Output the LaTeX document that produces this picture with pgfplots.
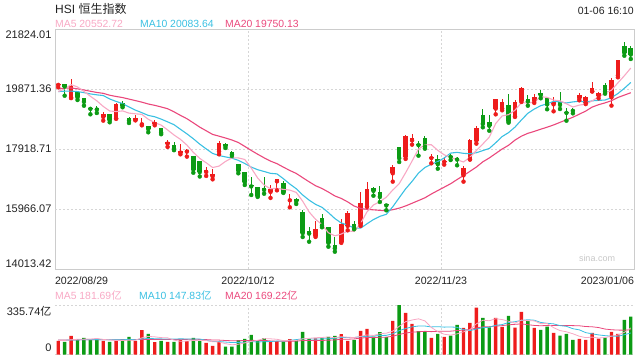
\documentclass[border=0pt]{standalone}
\usepackage{pgfplots}
\pgfplotsset{compat=1.18}
\usepackage{pgfplotstable}
\usepackage{fontspec}
\setmainfont{Liberation Sans}
\newfontfamily\cjk{Noto Sans CJK SC}
\definecolor{cred}{RGB}{238,28,28}
\definecolor{cgreen}{RGB}{12,155,20}
\definecolor{mafive}{RGB}{248,168,196}
\definecolor{maten}{RGB}{58,192,226}
\definecolor{matwenty}{RGB}{234,72,124}
\definecolor{gridc}{RGB}{214,214,214}
\definecolor{axc}{RGB}{204,204,204}
\definecolor{txtc}{RGB}{34,34,34}

\pgfplotstableread{
i O H L C V
0 20004 20079 19926 20023 92.4
2 19591 20186 19575 19954 126.2
7 18963 19113 18842 19044 92.4
9 18917 19428 18900 19362 92.4
12 18865 19028 18850 18930 92.4
13 18722 18917 18689 18762 164.5
15 18735 18865 18690 18781 83.4
17 18094 18224 17986 18148 85.6
19 17801 18094 17746 17855 101.4
20 17834 17931 17671 17860 90.1
23 17173 17345 17043 17223 78.9
24 17030 17257 16932 17080 58.6
25 17834 18182 17746 18088 83.4
33 16522 16760 16327 16613 90.1
34 16867 16935 16574 16915 90.1
36 16249 16457 16021 16280 103.7
40 15100 15588 15058 15318 110
44 14882 15653 14865 15455 137.5
45 15416 15904 15272 15827 92.4
47 15468 16522 15416 16161 160.0
48 16053 16835 16034 16596 173.5
52 17127 17388 16857 17326 227.6
54 17671 18387 17596 18343 281.7
55 18201 18419 18061 18256 207.3
58 17625 17759 17453 17656 112.7
60 17500 17648 17411 17524 119.4
63 17062 17368 16857 17298 180.3
64 17583 18257 17573 18205 214.1
65 18192 18670 18094 18597 317.7
68 19233 19558 19047 19518 247.9
69 19233 19558 19178 19441 187.0
71 18982 19503 18963 19451 182.5
72 19493 19949 19451 19901 288.4
74 19493 19721 19419 19596 180.3
77 19373 19614 19145 19450 146.5
81 19568 19754 19503 19679 105.9
82 19420 19650 19380 19593 99.1
83 19796 20112 19790 19899 146.5
84 19656 19776 19568 19741 108.2
86 19601 20242 19331 20145 153.2
87 20317 20828 20252 20793 139.7
}\redC

\pgfplotstableread{
i O H L C V
1 20024 20035 19653 19949 85.6
3 19764 19780 19513 19597 103.7
4 19556 19570 19328 19452 112.7
5 19253 19265 19048 19225 96.9
6 19230 19308 19090 19203 105.9
8 19035 19050 18788 18855 85.6
10 19416 19481 19276 19327 96.9
11 18905 18960 18765 18847 119.4
14 18667 18680 18462 18566 139.7
16 18602 18615 18400 18445 92.4
18 18026 18146 17880 17933 85.6
21 17668 17680 17147 17251 112.7
22 17528 17540 17024 17166 92.4
26 18082 18124 17951 18012 54.1
27 17821 17863 17691 17740 54.1
28 17421 17430 17128 17217 96.9
29 17170 17180 16747 16832 105.9
30 16740 17007 16422 16701 132.9
31 16672 16690 16360 16389 92.4
32 16640 16998 16464 16588 110.4
35 16790 16877 16490 16511 87.9
37 16292 16310 16129 16211 99.1
38 15869 15943 15055 15181 153.2
39 15227 15390 14902 15166 103.7
41 15650 15803 15371 15428 110.4
42 15380 15395 14739 14863 119.4
43 14785 15045 14577 14687 126.2
46 15455 15585 15306 15339 99.1
49 16627 16682 16399 16557 121.7
50 16519 16705 16194 16359 151.0
51 16110 16140 15924 16081 117.2
53 17961 17975 17496 17620 335.7
56 18072 18179 17701 18046 157.7
57 18277 18352 17929 17993 157.7
59 17584 17714 17278 17424 139.7
61 17685 17760 17560 17661 128.4
62 17626 17658 17388 17574 200.5
66 19025 19211 18625 18736 247.9
67 18781 19025 18514 18675 184.8
70 19351 19709 18775 18815 261.4
73 19546 19676 19328 19464 227.6
75 19741 19829 19569 19673 166.7
76 19569 19611 19211 19369 189.3
78 19438 19764 19220 19353 128.4
79 19113 19263 18840 19095 139.7
80 19190 19250 19080 19160 99.1
85 20002 20057 19718 19781 114.9
88 21271 21391 20955 21052 234.3
89 21183 21271 20848 20992 256.9
}\greenC

\pgfplotstableread{
i m5 m10 m20 v5 v10 v20
0 19786.6 19788.0 19883.6 96 97 98
1 19875.8 19799.8 19896.6 95 97 98
2 20012.8 19803.0 19905.9 100 98 99
3 19938.6 19786.3 19877.1 103 99 99
4 19795.0 19754.2 19839.6 104.1 100 100
5 19635.4 19711.0 19798.5 105.0 100 100
6 19486.2 19681.0 19758.5 109.1 101 100
7 19304.2 19658.5 19730.2 102.3 100 100
8 19155.8 19547.2 19668.8 98.7 100 100
9 19137.8 19466.4 19628.1 94.6 99.4 100
10 19158.2 19396.8 19592.4 94.6 99.8 101
11 19087.0 19286.6 19543.2 97.3 103.2 101
12 19064.2 19184.2 19493.6 97.3 99.8 101
13 19045.6 19100.7 19443.5 113.1 105.9 102
14 18886.4 19012.1 19383.2 122.6 108.6 102
15 18777.2 18967.7 19339.4 119.9 107.3 102
16 18696.8 18891.9 19286.5 114.5 105.9 102
17 18540.4 18802.3 19230.4 113.1 105.2 102
18 18374.6 18710.1 19128.7 97.3 105.2 102
19 18232.4 18559.4 19012.9 89.7 106.1 102.8
20 18048.2 18412.7 18904.8 91.0 105.5 102.6
21 17809.4 18253.1 18769.9 95.1 104.8 104.0
22 17613.0 18076.7 18630.5 96.4 104.8 102.3
23 17471.0 17922.8 18511.8 95.1 96.2 101.1
24 17316.0 17774.2 18393.2 86.5 88.1 98.4
25 17361.6 17704.9 18336.3 85.2 88.1 97.7
26 17513.8 17661.6 18276.8 73.5 84.3 95.1
27 17628.6 17620.8 18211.6 65.8 81.1 93.2
28 17627.4 17549.2 18129.7 69.4 82.3 93.7
29 17577.8 17446.9 18003.2 78.9 82.7 94.4
30 17300.4 17331.0 17871.9 88.8 87.0 96.2
31 16975.8 17244.8 17749.0 96.4 85.0 94.9
32 16745.4 17187.0 17631.9 107.7 86.8 95.8
33 16624.6 17126.0 17524.4 106.3 87.9 92.1
34 16641.2 17109.5 17441.9 103.2 91.0 89.6
35 16603.2 16951.8 17328.4 94.2 91.5 89.8
36 16581.4 16778.6 17220.1 96.4 96.4 90.4
37 16506.0 16625.7 17123.3 94.2 100.9 91.0
38 16219.6 16422.1 16985.7 106.8 106.6 94.4
39 15869.8 16255.5 16851.2 109.5 106.4 94.5
40 15631.2 16117.2 16724.1 113.9 104.1 95.5
41 15460.8 16021.1 16633.0 115.3 105.9 95.4
42 15191.2 15848.6 16517.8 119.3 106.8 96.8
43 15092.4 15656.0 16391.0 113.9 110.4 99.1
44 15150.2 15510.0 16309.8 120.7 115.1 103.1
45 15252.0 15441.6 16196.7 117.2 115.6 103.5
46 15234.2 15347.5 16063.1 114.9 115.1 105.8
47 15493.8 15342.5 15984.1 123.0 121.2 111.1
48 15875.6 15484.0 15953.1 132.5 123.2 114.9
49 16096.0 15623.1 15939.3 129.3 125.0 115.7
50 16202.4 15727.2 15922.2 141.1 129.1 116.6
51 16350.8 15792.5 15906.8 144.7 129.8 117.8
52 16583.8 16038.8 15943.7 158.2 140.6 123.7
53 16788.6 16332.1 15994.1 190.6 161.6 136.0
54 17145.8 16620.9 16065.5 222.6 176.0 145.6
55 17525.2 16863.8 16152.7 233.9 187.5 151.5
56 17918.2 17134.5 16241.0 242.0 193.3 154.2
57 18051.6 17317.7 16330.1 228.0 193.1 157.2
58 18058.8 17423.7 16453.9 183.4 187.0 155.1
59 17875.0 17510.4 16566.8 155.0 188.8 156.9
60 17728.6 17626.9 16677.1 137.4 185.7 157.4
61 17651.6 17784.9 16788.7 131.6 186.8 158.3
62 17567.8 17809.7 16924.3 140.1 184.1 162.4
63 17496.2 17777.5 17054.8 153.7 168.5 165.1
64 17652.4 17763.7 17192.3 168.5 161.8 168.9
65 17867.0 17797.8 17330.8 208.2 172.8 180.2
66 18082.0 17866.8 17500.7 232.1 181.8 187.6
67 18302.2 17935.0 17626.4 229.0 184.6 188.8
68 18746.2 18121.2 17772.5 242.5 198.1 192.6
69 18993.4 18322.9 17916.7 237.1 202.8 195.8
70 19037.0 18452.0 18039.5 225.8 217.0 201.3
71 19180.0 18631.0 18208.0 212.7 222.4 204.6
72 19425.2 18863.7 18336.7 233.4 231.2 207.6
73 19414.4 19080.3 18428.9 229.4 235.9 202.2
74 19445.4 19219.4 18491.6 228.0 232.6 197.2
75 19617.0 19327.0 18562.4 209.1 217.5 195.1
76 19600.6 19390.3 18628.6 210.5 211.6 196.7
77 19510.4 19467.8 18701.4 182.1 207.8 196.2
78 19488.2 19451.3 18786.3 162.2 195.8 196.9
79 19388.0 19416.7 18869.8 154.1 191.1 196.9
80 19285.4 19451.2 18951.6 140.6 174.9 195.9
81 19347.4 19474.0 19052.5 123.9 167.2 194.8
82 19376.0 19443.2 19153.5 114.4 148.3 189.7
83 19485.2 19486.7 19283.5 118.1 140.2 188.0
84 19614.4 19501.2 19360.3 111.8 132.9 182.7
85 19738.6 19512.0 19419.5 114.9 127.8 172.6
86 19831.8 19589.6 19490.0 124.4 124.2 167.9
87 20071.8 19723.9 19595.9 132.5 123.5 165.6
88 20302.4 19893.8 19672.6 150.1 134.1 164.9
89 20552.6 20083.5 19750.1 179.8 145.8 168.4
}\maT

\begin{document}
\begin{tikzpicture}
\useasboundingbox (0,0) rectangle (640bp,360bp);

% ---------- price panel ----------
\begin{axis}[
  at={(55bp,91bp)}, anchor=south west, scale only axis,
  width=579bp, height=240bp,
  xmin=-0.5, xmax=89.5, ymin=14013.42, ymax=21824.01,
  scaled x ticks=false, scaled y ticks=false,
  axis line style={draw=axc, line width=0.8bp},
  major tick length=0pt,
  ytick={21651.5,19871.36,17918.71,15966.07,14199},
  yticklabels={21824.01,19871.36,17918.71,15966.07,14013.42},
  extra y ticks={19871.36,17918.71,15966.07},
  extra y tick labels={},
  extra y tick style={grid=major},
  xtick={-0.5,29.5,59.5,89.5},
  xticklabels={\makebox[0pt][l]{2022/08/29},2022/10/12,2022/11/23,\makebox[0pt][r]{2023/01/06}},
  extra x ticks={29.5,59.5},
  extra x tick labels={},
  extra x tick style={grid=major},
  major grid style={draw=gridc, line width=0.9bp, dash pattern=on 2bp off 2bp},
  yticklabel style={font=\fontsize{11bp}{12bp}\selectfont, text=txtc},
  xticklabel style={font=\fontsize{10.6bp}{12bp}\selectfont, text=txtc, yshift=-4bp},
  /pgf/number format/assume math mode=true,
]
% wicks
\addplot[cred, only marks, mark=none, forget plot, error bars/.cd, y dir=plus, y explicit, error mark=none, error bar style={draw=cred, line width=0.9bp}]
  table[x=i, y=L, y error plus expr=\thisrow{H}-\thisrow{L}] {\redC};
\addplot[cgreen, only marks, mark=none, forget plot, error bars/.cd, y dir=plus, y explicit, error mark=none, error bar style={draw=cgreen, line width=0.9bp}]
  table[x=i, y=L, y error plus expr=\thisrow{H}-\thisrow{L}] {\greenC};
% bodies
\addplot[cred, only marks, mark=none, forget plot, error bars/.cd, y dir=plus, y explicit, error mark=none, error bar style={draw=cred, line width=4.6bp, line cap=butt}]
  table[x=i, y=O, y error plus expr=\thisrow{C}-\thisrow{O}+12] {\redC};
\addplot[cgreen, only marks, mark=none, forget plot, error bars/.cd, y dir=plus, y explicit, error mark=none, error bar style={draw=cgreen, line width=4.6bp, line cap=butt}]
  table[x=i, y=C, y error plus expr=\thisrow{O}-\thisrow{C}+12] {\greenC};
% moving averages
\addplot[matwenty, line width=1.1bp, mark=none] table[x=i, y=m20] {\maT};
\addplot[maten, line width=1.1bp, mark=none] table[x=i, y=m10] {\maT};
\addplot[mafive, line width=1.1bp, mark=none] table[x=i, y=m5] {\maT};
\end{axis}

% ---------- volume panel ----------
\begin{axis}[
  at={(55bp,5.5bp)}, anchor=south west, scale only axis,
  width=579bp, height=49.5bp,
  xmin=-0.5, xmax=89.5, ymin=0, ymax=335.74,
  scaled x ticks=false, scaled y ticks=false,
  axis line style={draw=none},
  major tick length=0pt,
  ytick={44,295},
  yticklabels={0,335.74{\cjk 亿}},
  extra y ticks={0,335.74},
  extra y tick labels={},
  extra y tick style={grid=major},
  xtick=\empty,
  extra x ticks={29.5,59.5},
  extra x tick labels={},
  extra x tick style={grid=major},
  major grid style={draw=gridc, line width=0.9bp, dash pattern=on 2bp off 2bp},
  yticklabel style={font=\fontsize{11bp}{12bp}\selectfont, text=txtc},
  /pgf/number format/assume math mode=true,
]
\addplot[ybar, bar width=3.4bp, bar shift=0pt, fill=cred, draw=none] table[x=i, y=V] {\redC};
\addplot[ybar, bar width=3.4bp, bar shift=0pt, fill=cgreen, draw=none] table[x=i, y=V] {\greenC};
\addplot[matwenty, line width=0.8bp, mark=none] table[x=i, y=v20] {\maT};
\addplot[maten, line width=0.8bp, mark=none] table[x=i, y=v10] {\maT};
\addplot[mafive, line width=0.8bp, mark=none] table[x=i, y=v5] {\maT};
\end{axis}

% ---------- texts ----------
\node[anchor=west, inner sep=0pt, text=txtc, font=\fontsize{12bp}{14bp}\selectfont] at (55bp,351.5bp) {HSI {\cjk 恒生指数}};
\node[anchor=east, inner sep=0pt, text=txtc, font=\fontsize{10.5bp}{12bp}\selectfont] at (634bp,349bp) {01-06 16:10};
\node[anchor=west, inner sep=0pt, text=mafive, font=\fontsize{10.4bp}{12bp}\selectfont] at (55bp,336bp) {MA5 20552.72};
\node[anchor=west, inner sep=0pt, text=maten, font=\fontsize{10.4bp}{12bp}\selectfont] at (140bp,336bp) {MA10 20083.64};
\node[anchor=west, inner sep=0pt, text=matwenty, font=\fontsize{10.4bp}{12bp}\selectfont] at (225bp,336bp) {MA20 19750.13};
\node[anchor=west, inner sep=0pt, text=mafive, font=\fontsize{10.4bp}{12bp}\selectfont] at (55bp,64bp) {MA5 181.69{\cjk 亿}};
\node[anchor=west, inner sep=0pt, text=maten, font=\fontsize{10.4bp}{12bp}\selectfont] at (139bp,64bp) {MA10 147.83{\cjk 亿}};
\node[anchor=west, inner sep=0pt, text=matwenty, font=\fontsize{10.4bp}{12bp}\selectfont] at (225bp,64bp) {MA20 169.22{\cjk 亿}};
\node[text=black!22, font=\fontsize{9bp}{10bp}\selectfont] at (597bp,102bp) {sina.com};
\end{tikzpicture}
\end{document}
